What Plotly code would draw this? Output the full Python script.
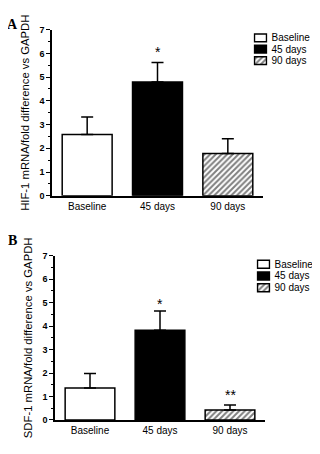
import plotly.graph_objects as go

categories = ["Baseline", "45 days", "90 days"]
hif1_means = [2.58, 4.79, 1.78]
hif1_sem = [0.74, 0.83, 0.62]
sdf1_means = [1.36, 3.82, 0.42]
sdf1_sem = [0.62, 0.82, 0.22]
hif1_marks = ["", "*", ""]
hif1_mark_y = [None, 6.07, None]
sdf1_marks = ["", "*", "**"]
sdf1_mark_y = [None, 4.95, 1.07]
y_ticks = [0, 1, 2, 3, 4, 5, 6, 7]

fills = ["white", "black", "white"]
patterns = ["", "", "/"]

FONT = "Liberation Sans, Arial, sans-serif"
SERIF = "Liberation Serif, Times New Roman, serif"
OFF = 8  # page body margin
W, H = 312, 446


def px(x):
    return (x - OFF) / W


def py(y):
    return 1 - (y - OFF) / H


def marker(i):
    return dict(color=fills[i], line=dict(color="black", width=1.5),
                pattern=dict(shape=patterns[i], fgcolor="black", bgcolor="white",
                             size=4, solidity=0.5))


fig = go.Figure()

panels = [("x", "y", hif1_means, hif1_sem), ("x2", "y2", sdf1_means, sdf1_sem)]
for xa, ya, means, sems in panels:
    for i, c in enumerate(categories):
        fig.add_trace(go.Bar(
            x=[i], y=[means[i]], name=c, xaxis=xa, yaxis=ya, showlegend=False,
            width=0.71, marker=marker(i),
            error_y=dict(type="data", symmetric=False, array=[sems[i]], arrayminus=[0],
                         color="black", thickness=1.5, width=6),
        ))

# legend swatches (one small axis pair per panel)
for xa, ya in [("x3", "y3"), ("x4", "y4")]:
    for i, c in enumerate(categories):
        fig.add_trace(go.Bar(
            x=[1], y=[c], orientation="h", xaxis=xa, yaxis=ya, showlegend=False,
            width=0.68, marker=marker(i), hoverinfo="skip",
        ))

for xa, ya, marks, my in [("x", "y", hif1_marks, hif1_mark_y), ("x2", "y2", sdf1_marks, sdf1_mark_y)]:
    for i, m in enumerate(marks):
        if m:
            fig.add_annotation(x=i, y=my[i], xref=xa, yref=ya, text=m, showarrow=False,
                               xanchor="center", yanchor="middle",
                               font=dict(family=FONT, size=14, color="black"))

fig.add_annotation(x=px(12), y=py(20), xref="paper", yref="paper", text="<b>A</b>",
                   xanchor="center", yanchor="middle",
                   showarrow=False, font=dict(family=SERIF, size=14, color="black"))
fig.add_annotation(x=px(12), y=py(241), xref="paper", yref="paper", text="<b>B</b>",
                   xanchor="center", yanchor="middle",
                   showarrow=False, font=dict(family=SERIF, size=14, color="black"))

xcommon = dict(range=[-0.5, 2.5], tickvals=[0, 1, 2], ticktext=categories, showline=True,
               linecolor="black", linewidth=1.5, ticks="", showgrid=False, zeroline=False,
               tickfont=dict(family=FONT, size=10, color="black"), fixedrange=True)
ycommon = dict(range=[0, 7], tickvals=y_ticks, showline=True, linecolor="black", linewidth=1.5,
               ticks="outside", ticklen=4, tickwidth=1, tickcolor="black", showgrid=False,
               zeroline=False, tickfont=dict(family=FONT, size=9, color="black", weight="bold"),
               minor=dict(dtick=0.5, ticks="outside", ticklen=2, tickcolor="black"),
               title_font=dict(family=FONT, size=11.3, color="black"), title_standoff=7)
lgx = dict(range=[-0.08, 1.08], visible=False, fixedrange=True)
lgy = dict(type="category", categoryarray=categories, autorange="reversed", side="right",
           tickmode="array", tickvals=categories, ticktext=categories,
           showline=False, showgrid=False, zeroline=False, ticks="",
           tickfont=dict(family=FONT, size=10, color="black"), ticklabelstandoff=3,
           fixedrange=True)

fig.update_layout(
    width=W, height=H, margin=dict(l=0, r=0, t=0, b=0),
    paper_bgcolor="white", plot_bgcolor="white", barmode="overlay", showlegend=False,
    xaxis=dict(domain=[px(52), px(263)], anchor="y", **xcommon),
    yaxis=dict(domain=[py(195), py(25)], anchor="x",
               title_text="HIF-1 mRNA/fold difference vs GAPDH", **ycommon),
    xaxis2=dict(domain=[px(55), px(265)], anchor="y2", **xcommon),
    yaxis2=dict(domain=[py(424.3), py(256.3)], anchor="x2",
                title_text="SDF-1 mRNA/fold difference vs GAPDH", **ycommon),
    xaxis3=dict(domain=[px(253.5), px(267.5)], anchor="y3", **lgx),
    yaxis3=dict(domain=[py(62.5), py(27.5)], anchor="x3", **lgy),
    xaxis4=dict(domain=[px(256.5), px(270.5)], anchor="y4", **lgx),
    yaxis4=dict(domain=[py(295), py(259)], anchor="x4", **lgy),
)

fig.write_html("out.html")
